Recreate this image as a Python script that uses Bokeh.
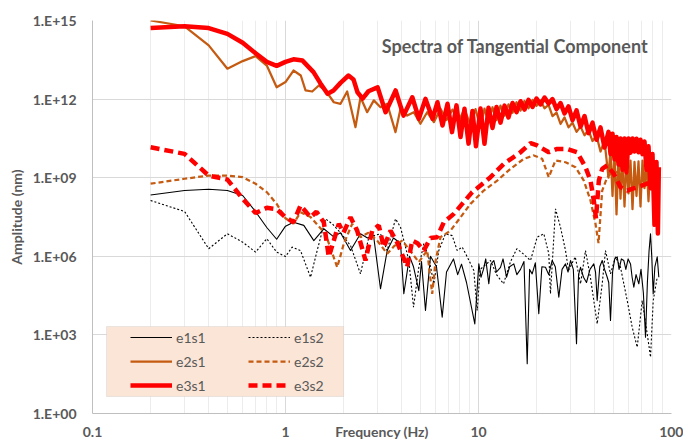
from bokeh.plotting import figure
from bokeh.models import (Range1d, FixedTicker, CustomJSTickFormatter, Legend,
                          LegendItem, Label, BoxAnnotation)
from bokeh.embed import file_html
from bokeh.resources import INLINE

FONT = "Lato"
TXT = "#595959"

# ---------------- data (frequency in Hz, amplitude given as log10 of nm) ----------------
x_ticks = [0.1, 1, 10, 100]
x_tick_labels = ["0.1", "1", "10", "100"]
y_ticks = [1, 1e3, 1e6, 1e9, 1e12, 1e15]
y_tick_labels = ["1.E+00", "1.E+03", "1.E+06", "1.E+09", "1.E+12", "1.E+15"]

e1s1_f = [0.2, 0.3, 0.4, 0.5, 0.6, 0.7, 0.8, 0.9, 1.0, 1.1,
          1.244, 1.402, 1.579, 1.773, 1.928, 2.172, 2.446, 2.66, 2.858, 3.106,
          3.365, 3.627, 3.944, 4.102, 4.391, 4.606, 4.906, 5.066, 5.313, 5.64,
          6.06, 6.485, 6.827, 7.42, 7.8, 8.166, 8.667, 9.568, 10.04, 10.3,
          10.61, 10.9, 11.31, 11.6, 12.0, 12.4, 13.0, 13.4, 13.97, 14.5,
          15.24, 15.8, 16.5, 17.2, 17.88, 18.4, 18.97, 19.7, 20.53, 21.3,
          22.24, 23.1, 24.09, 25.0, 26.07, 27.1, 28.24, 29.1, 29.98, 31.0,
          32.2, 33.0, 33.78, 35.0, 36.27, 37.8, 39.57, 40.4, 41.21, 42.5,
          43.75, 45.0, 46.44, 47.3, 48.3, 49.5, 50.8, 52.33, 53.5, 55.0,
          56.6, 58.0, 59.6, 61.33, 62.5, 63.79, 65.5, 67.7, 69.5, 71.5,
          73.35, 75.0, 76.5, 77.86, 79.0, 80.4, 82.0, 84.34, 85.96]
e1s1_log = [8.34, 8.51, 8.56, 8.51, 8.32, 7.7, 7.1, 6.65, 7.15, 7.3,
            7.18, 6.6, 7.05, 6.75, 6.9, 6.22, 6.86, 6.7, 6.8, 4.76,
            6.22, 6.7, 6.5, 4.57, 6.0, 5.6, 4.69, 5.8, 3.93, 6.0,
            5.6, 3.68, 5.4, 5.9, 5.3, 5.7, 5.0, 3.42, 5.71, 5.2,
            5.5, 5.9, 4.95, 5.7, 5.84, 5.4, 5.58, 5.9, 5.2, 5.6,
            5.71, 5.3, 5.5, 5.8, 1.9, 5.5, 5.33, 5.75, 3.81, 5.6,
            5.58, 5.3, 5.84, 5.6, 4.44, 5.5, 5.71, 5.4, 5.84, 5.5,
            2.66, 5.3, 5.58, 5.2, 5.0, 5.5, 5.71, 5.4, 4.31, 5.6,
            5.84, 5.5, 5.2, 5.0, 3.55, 5.4, 5.9, 5.98, 5.5, 5.9,
            5.84, 5.5, 5.9, 5.71, 5.2, 4.82, 5.3, 4.95, 5.5, 4.6,
            2.91, 5.0, 6.2, 6.86, 6.0, 4.57, 5.6, 5.98, 5.2]

e1s2_f = [0.2, 0.3, 0.4, 0.5, 0.6, 0.7, 0.8, 0.9, 1.0, 1.083,
          1.196, 1.348, 1.459, 1.612, 1.746, 1.928, 2.172, 2.446, 2.702, 3.106,
          3.365, 3.715, 3.944, 4.355, 4.606, 4.906, 5.207, 5.508, 5.868, 6.229,
          6.745, 7.306, 7.755, 8.233, 8.74, 9.455, 9.846, 10.2, 11.54, 12.4,
          13.48, 14.66, 15.8, 17.0, 18.6, 20.14, 21.8, 23.13, 23.6, 25.06,
          26.6, 28.24, 29.26, 31.72, 33.78, 35.84, 38.0, 41.21, 43.75, 45.5,
          48.3, 51.28, 54.42, 58.96, 62.58, 66.43, 70.51, 74.84, 77.86, 80.4,
          84.34]
e1s2_log = [8.13, 7.71, 6.29, 6.86, 6.54, 6.16, 6.67, 6.16, 5.99, 6.35,
            6.22, 5.2, 6.22, 7.43, 7.24, 6.9, 6.41, 5.33, 6.73, 6.86,
            6.22, 7.43, 7.11, 5.84, 4.06, 5.58, 6.48, 6.0, 4.95, 6.22,
            6.86, 6.79, 6.22, 6.35, 5.98, 5.46, 3.93, 5.5, 5.84, 5.3,
            4.95, 5.8, 6.29, 6.1, 5.84, 6.73, 6.86, 6.1, 4.57, 7.81,
            7.11, 6.22, 5.46, 5.98, 4.95, 6.22, 5.2, 3.42, 4.95, 6.22,
            5.33, 5.98, 5.58, 4.31, 3.29, 2.53, 4.31, 3.04, 2.15, 4.31,
            5.2]

e2s1_f = [0.2, 0.3, 0.4, 0.5, 0.6, 0.7, 0.8, 0.9, 1.0, 1.1,
          1.2, 1.27, 1.375, 1.488, 1.612, 1.78, 1.928, 2.087, 2.305, 2.447,
          2.65, 2.868, 3.106, 3.365, 3.715, 3.944, 4.271, 4.62, 5.0, 5.42,
          5.87, 6.355, 6.83, 7.33, 7.88, 8.46, 9.09, 9.65, 10.24, 10.74,
          11.27, 11.82, 12.4, 13.0, 13.64, 14.3, 15.0, 15.74, 16.51, 17.31,
          18.16, 19.05, 19.98, 20.96, 21.98, 23.06, 24.18, 25.37, 26.61, 27.91,
          29.27, 30.7, 32.21, 33.78, 35.43, 37.16, 38.97, 40.88, 42.87, 44.97,
          47.17, 48.31, 49.47, 50.66, 51.89, 53.14, 54.42, 55.73, 57.08, 58.45,
          59.87, 61.31, 62.8, 64.31, 65.86, 67.45, 69.08, 70.75, 72.46, 74.21,
          76.0, 77.83, 79.71, 81.63, 83.61]
e2s1_log = [15.0, 14.78, 14.05, 13.16, 13.45, 13.64, 13.28, 12.45, 12.65, 13.09,
            12.9, 12.33, 12.29, 12.52, 12.33, 11.88, 11.82, 12.29, 10.93, 12.07,
            11.5, 11.95, 11.69, 11.82, 10.74, 11.63, 11.37, 11.5, 11.06, 11.5,
            11.12, 11.63, 11.2, 11.6, 11.15, 11.62, 11.0, 11.62, 10.9, 11.64,
            11.1, 11.69, 11.2, 11.75, 11.37, 11.8, 11.48, 11.88, 11.56, 11.93,
            11.65, 11.97, 11.74, 11.95, 11.65, 11.78, 11.35, 11.48, 11.05, 11.3,
            10.92, 11.1, 10.75, 10.95, 10.62, 10.82, 10.4, 10.6, 10.0, 10.4,
            9.0, 10.1, 8.3, 10.0, 7.6, 9.9, 8.2, 9.8, 7.9, 9.7,
            8.4, 9.65, 7.8, 9.6, 8.3, 9.62, 7.9, 9.65, 8.6, 9.66,
            8.1, 9.6, 8.7, 9.45, 8.9]

e2s2_f = [0.2, 0.3, 0.4, 0.5, 0.6, 0.7, 0.8, 0.9, 1.0, 1.1,
          1.196, 1.348, 1.612, 1.853, 2.005, 2.216, 2.446, 2.69, 2.987, 3.365,
          3.67, 4.025, 4.44, 4.906, 5.42, 5.756, 5.987, 6.355, 7.16, 8.07,
          9.09, 10.65, 12.5, 14.65, 17.17, 19.34, 21.38, 23.13, 25.06, 28.24,
          31.8, 35.13, 38.05, 40.4, 41.87, 43.75, 46.44, 50.23, 54.42, 61.33,
          69.08, 77.86]
e2s2_log = [8.77, 8.96, 9.08, 9.08, 9.02, 8.77, 8.45, 8.0, 7.45, 7.25,
            7.68, 7.5, 6.86, 5.58, 6.48, 7.24, 6.73, 6.9, 6.6, 6.1,
            6.4, 6.6, 6.2, 5.78, 6.22, 4.57, 5.8, 6.73, 6.98, 7.49,
            8.0, 8.51, 8.89, 9.34, 9.72, 9.85, 9.72, 9.02, 9.66, 9.59,
            9.4, 8.89, 8.13, 7.24, 6.5, 8.51, 9.02, 9.27, 9.1, 8.9,
            8.9, 8.8]

e3s1_f = [0.2, 0.3, 0.4, 0.5, 0.6, 0.7, 0.8, 0.9, 1.0, 1.1,
          1.225, 1.397, 1.518, 1.651, 1.773, 1.928, 2.12, 2.25, 2.36, 2.51,
          2.69, 3.0, 3.3, 3.72, 4.09, 4.54, 4.91, 5.31, 5.78, 6.13,
          6.51, 6.91, 7.29, 7.69, 8.07, 8.46, 8.88, 9.31, 9.7, 10.24,
          10.74, 11.27, 11.82, 12.4, 13.0, 13.64, 14.3, 15.0, 15.74, 16.51,
          17.31, 18.16, 19.05, 19.98, 20.96, 21.98, 23.06, 24.18, 25.37, 26.61,
          27.91, 29.27, 30.7, 32.21, 33.78, 35.43, 37.16, 38.97, 40.88, 42.87,
          44.97, 47.17, 48.31, 49.47, 50.66, 51.89, 53.14, 54.42, 55.73, 57.08,
          58.45, 59.87, 61.31, 62.8, 64.31, 65.86, 67.45, 69.08, 70.75, 72.46,
          74.21, 76.0, 77.83, 79.71, 81.63, 83.61, 85.0, 86.0]
e3s1_log = [14.71, 14.78, 14.71, 14.49, 14.15, 13.75, 13.42, 13.27, 13.42, 13.52,
            13.47, 13.03, 12.6, 12.2, 12.33, 12.62, 12.9, 12.75, 12.26, 12.02,
            12.3, 12.45, 11.5, 12.33, 11.37, 12.07, 11.25, 12.01, 11.25, 11.88,
            10.99, 11.82, 10.74, 11.76, 10.55, 11.63, 10.3, 11.55, 10.2, 11.64,
            10.3, 11.67, 10.9, 11.7, 11.1, 11.75, 11.3, 11.85, 11.5, 11.92,
            11.6, 11.97, 11.7, 12.02, 11.8, 12.06, 11.83, 12.0, 11.62, 11.85,
            11.45, 11.72, 11.2, 11.57, 10.95, 11.35, 10.7, 11.1, 10.45, 10.92,
            10.15, 10.75, 9.9, 10.68, 9.7, 10.55, 9.5, 10.5, 9.3, 10.5,
            9.2, 10.5, 9.95, 10.5, 10.0, 10.49, 9.97, 10.45, 9.9, 10.38,
            9.3, 10.2, 8.6, 9.9, 7.2, 9.6, 6.87, 9.4]

e3s2_f = [0.2, 0.3, 0.4, 0.5, 0.6, 0.7, 0.8, 0.9, 1.0, 1.1,
          1.196, 1.348, 1.447, 1.579, 1.676, 1.779, 1.889, 1.998, 2.172, 2.352,
          2.597, 2.813, 3.043, 3.23, 3.5, 3.805, 4.271, 4.535, 4.83, 5.207,
          5.64, 6.11, 6.61, 7.45, 8.233, 9.28, 10.24, 11.54, 13.53, 16.5,
          18.6, 20.14, 23.13, 25.57, 28.82, 32.47, 35.84, 38.05, 39.57, 40.63,
          42.02, 43.75, 46.44, 50.23, 54.42, 58.96, 66.43, 74.84, 79.43]
e3s2_log = [10.16, 9.91, 9.08, 8.93, 8.2, 7.65, 7.85, 7.8, 7.49, 7.3,
            7.94, 7.49, 7.7, 7.3, 5.98, 6.6, 7.24, 6.9, 7.49, 6.98,
            5.84, 6.98, 7.18, 6.35, 6.98, 6.5, 5.6, 6.6, 6.5, 6.22,
            6.7, 6.73, 7.3, 7.62, 8.0, 8.45, 8.7, 9.02, 9.53, 9.97,
            10.32, 10.23, 9.97, 10.1, 10.1, 9.97, 9.4, 8.89, 8.13, 7.45,
            8.89, 9.34, 9.47, 9.15, 8.64, 8.51, 8.64, 8.77, 8.89]


def amp(logs):
    return [10 ** v for v in logs]


# ---------------- figure ----------------
p = figure(width=683, height=443, x_axis_type="log", y_axis_type="log",
           x_range=Range1d(0.1, 100), y_range=Range1d(1, 1e15),
           output_backend="svg", toolbar_location=None,
           min_border_left=92, min_border_right=12, min_border_top=20,
           min_border_bottom=30)
p.title.visible = False
p.outline_line_color = None
p.background_fill_color = "white"
p.border_fill_color = "white"

minor_x = [0.2, 0.3, 0.4, 0.5, 0.6, 0.7, 0.8, 0.9,
           2, 3, 4, 5, 6, 7, 8, 9, 20, 30, 40, 50, 60, 70, 80, 90]
p.xaxis.ticker = FixedTicker(ticks=x_ticks, minor_ticks=minor_x)
p.yaxis.ticker = FixedTicker(ticks=y_ticks)
FMT_CODE = """
    for (let i = 0; i < tvals.length; i++) {
        if (Math.abs(Math.log10(tvals[i]) - Math.log10(tick)) < 1e-6) return tlabels[i];
    }
    return "";
"""
p.xaxis.formatter = CustomJSTickFormatter(args=dict(tvals=x_ticks, tlabels=x_tick_labels), code=FMT_CODE)
p.yaxis.formatter = CustomJSTickFormatter(args=dict(tvals=y_ticks, tlabels=y_tick_labels), code=FMT_CODE)

for ax in (p.xaxis[0], p.yaxis[0]):
    ax.axis_line_color = "#BFBFBF"
    ax.major_tick_line_color = None
    ax.minor_tick_line_color = None
    ax.major_tick_out = 0
    ax.major_tick_in = 0
    ax.minor_tick_out = 0
    ax.minor_tick_in = 0
    ax.major_label_text_font = FONT
    ax.major_label_text_font_style = "bold"
    ax.major_label_text_font_size = "14px"
    ax.major_label_text_color = TXT
    ax.axis_label_text_font = FONT
    ax.axis_label_text_font_style = "bold"
    ax.axis_label_text_font_size = "14px"
    ax.axis_label_text_color = TXT

p.xaxis.major_label_standoff = 13
p.xaxis.axis_label = "Frequency (Hz)"
p.xaxis.axis_label_standoff = -17
p.yaxis.major_label_standoff = 16
p.yaxis.axis_label = "Amplitude (nm)"
p.yaxis.axis_label_standoff = 5

p.xgrid.grid_line_color = "#D9D9D9"
p.xgrid.minor_grid_line_color = "#ECECEC"
p.ygrid.grid_line_color = "#D9D9D9"
p.ygrid.minor_grid_line_color = None

# ---------------- series ----------------
BLACK = "#000000"
BROWN = "#C55A11"
RED = "#FF0000"

r11 = p.line(e1s1_f, amp(e1s1_log), line_color=BLACK, line_width=1.1, line_join="round")
r12 = p.line(e1s2_f, amp(e1s2_log), line_color=BLACK, line_width=1.1, line_dash="2 2")
r21 = p.line(e2s1_f, amp(e2s1_log), line_color=BROWN, line_width=2.25, line_join="round")
r22 = p.line(e2s2_f, amp(e2s2_log), line_color=BROWN, line_width=2.25, line_dash="5 3")
r31 = p.line(e3s1_f, amp(e3s1_log), line_color=RED, line_width=4.5, line_join="round")
r32 = p.line(e3s2_f, amp(e3s2_log), line_color=RED, line_width=4.5, line_dash="9 5")

# ---------------- legend ----------------
box = BoxAnnotation(left=0.1182, right=2.0, bottom=4.46, top=2089,
                    fill_color="#FBE5D6", fill_alpha=1.0,
                    line_color="#BFBFBF", line_width=1)
p.add_layout(box)

legend = Legend(items=[
    LegendItem(label="e1s1", renderers=[r11]),
    LegendItem(label="e1s2", renderers=[r12]),
    LegendItem(label="e2s1", renderers=[r21]),
    LegendItem(label="e2s2", renderers=[r22]),
    LegendItem(label="e3s1", renderers=[r31]),
    LegendItem(label="e3s2", renderers=[r32]),
], location=(38, 16), orientation="horizontal", ncols=2)
legend.background_fill_alpha = 0
legend.border_line_color = None
legend.padding = 0
legend.margin = 0
legend.spacing = 0
legend.glyph_width = 42
legend.glyph_height = 24
legend.label_height = 24
legend.label_width = 72
legend.label_standoff = 4
legend.label_text_font = FONT
legend.label_text_font_size = "14px"
legend.label_text_color = TXT
p.add_layout(legend)

# ---------------- title inside the plot ----------------
p.add_layout(Label(x=76, y=1.1e14, text="Spectra of Tangential Component",
                   text_align="right", text_baseline="middle",
                   text_font=FONT, text_font_style="bold", text_font_size="18px",
                   text_color=TXT))

open("out.html", "w").write(file_html(p, INLINE))
